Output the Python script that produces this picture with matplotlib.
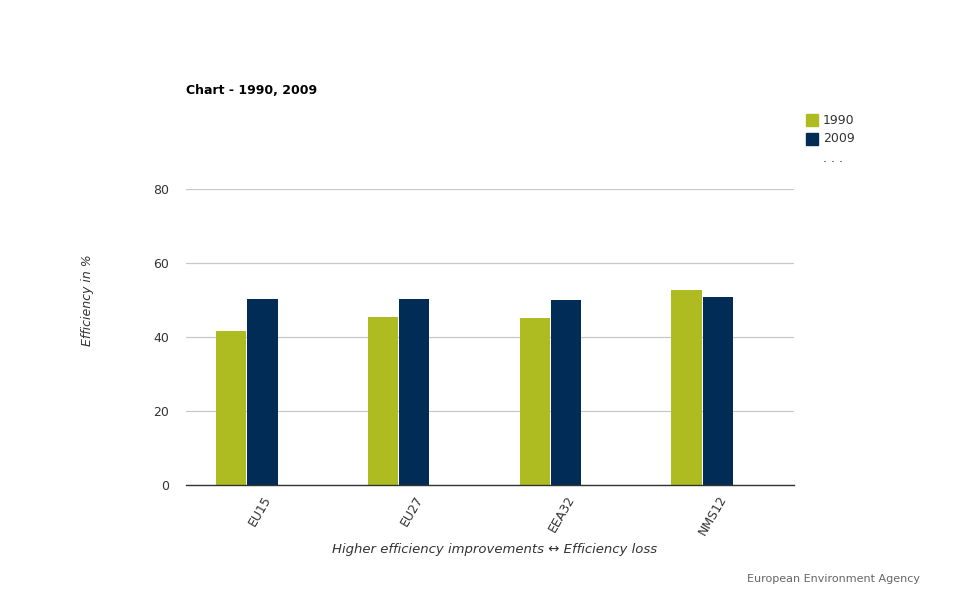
import numpy as np
import matplotlib
matplotlib.use("Agg")
import matplotlib.pyplot as plt
from matplotlib.patches import Rectangle
from matplotlib.transforms import ScaledTranslation

# ── data ──────────────────────────────────────────────────────────────────────
categories = ["EU15", "EU27", "EEA32", "NMS12"]
values_1990 = [41.7, 45.3, 45.0, 52.8]
values_2009 = [50.4, 50.4, 50.1, 50.7]
series_labels = ["1990", "2009"]
y_ticks = [0, 20, 40, 60, 80]

GREEN = "#AEBC21"
NAVY = "#002C56"
GRID = "#C8C8C8"
TEXT = "#333333"

plt.rcParams["font.family"] = ["DejaVu Sans"]

fig = plt.figure(figsize=(9.8, 6), dpi=100)
ax = fig.add_axes([186 / 980, 1 - 485 / 600, 608 / 980, 296 / 600])

x = np.arange(len(categories))
w = 0.2
ax.bar(x - w / 2 - 0.003, values_1990, width=w, color=GREEN, zorder=3)
ax.bar(x + w / 2 + 0.003, values_2009, width=w, color=NAVY, zorder=3)

ax.set_xlim(-0.4, 3.605)
ax.set_ylim(0, 80)
ax.set_yticks(y_ticks)
ax.set_yticklabels([str(t) for t in y_ticks], fontsize=9, color=TEXT)
ax.yaxis.grid(True, color=GRID, lw=0.9, zorder=0)
ax.tick_params(axis="y", length=0, pad=12)
ax.set_xticks(x)
ax.set_xticklabels(categories, rotation=60, ha="right", va="top",
                   rotation_mode="anchor", fontsize=9, color=TEXT)
ax.tick_params(axis="x", length=0, pad=6)
shift = ScaledTranslation(0.16, 0, fig.dpi_scale_trans)
for lbl in ax.get_xticklabels():
    lbl.set_transform(lbl.get_transform() + shift)
for s in ["top", "right", "left"]:
    ax.spines[s].set_visible(False)
ax.spines["bottom"].set_color("#333333")
ax.spines["bottom"].set_linewidth(1.0)
ax.spines["bottom"].set_zorder(4)

# titles / labels
fig.text(186 / 980, 1 - 90 / 600, "Chart - 1990, 2009", fontsize=9,
         fontweight="bold", color="black", va="center", ha="left")
fig.text(87 / 980, 1 - 300 / 600, "Efficiency in %", rotation=90,
         fontsize=9, style="italic", color=TEXT, ha="center", va="center")
fig.text(495 / 980, 1 - 550 / 600,
         "Higher efficiency improvements \u2194 Efficiency loss",
         fontsize=9.5, style="italic", color=TEXT, ha="center", va="center")

# legend
for i, (lab, col) in enumerate(zip(series_labels, [GREEN, NAVY])):
    yc = 120 + i * 19
    fig.patches.append(Rectangle((806 / 980, 1 - (yc + 6) / 600), 12 / 980, 12 / 600,
                                 transform=fig.transFigure, color=col))
    fig.text(823 / 980, 1 - yc / 600, lab, fontsize=9, color=TEXT,
             ha="left", va="center")
fig.text(823 / 980, 1 - 159 / 600, ". . .", fontsize=9, color=TEXT,
         ha="left", va="center")

# footer
fig.text(920 / 980, 1 - 579 / 600, "European Environment Agency", fontsize=8,
         color="#666666", ha="right", va="center")

fig.savefig("out.png", dpi=100)
